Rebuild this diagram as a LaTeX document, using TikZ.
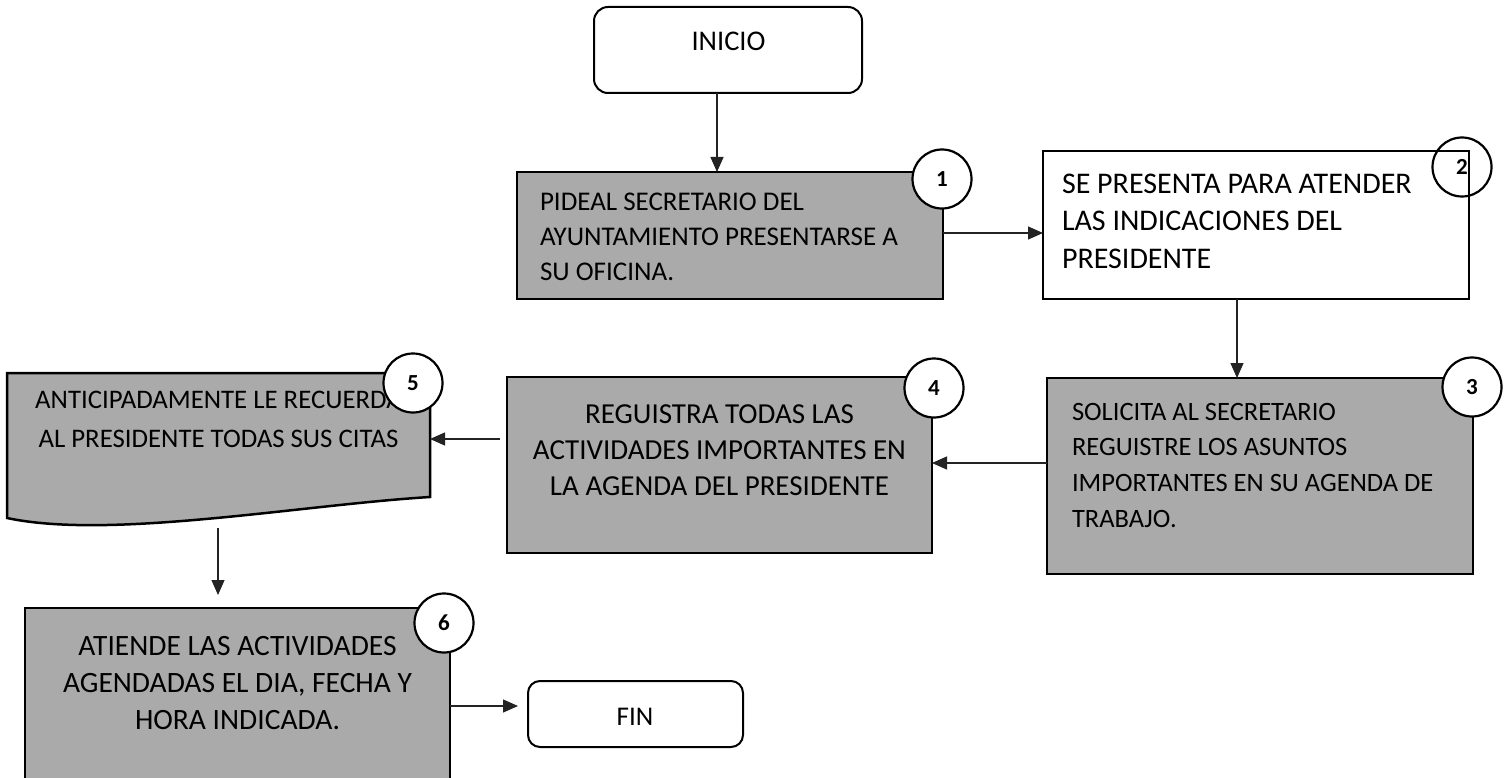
\documentclass[tikz,border=0pt]{standalone}
\usepackage{fontspec}
\setmainfont{Carlito}
\usetikzlibrary{arrows.meta,calc}
\definecolor{boxgray}{RGB}{170,170,170}
\definecolor{linegray}{RGB}{35,35,35}
\begin{document}
\begin{tikzpicture}[x=1pt,y=-1pt,
  proc/.style={draw=black,line width=2.5pt,fill=boxgray,inner sep=0pt,outer sep=0pt},
  term/.style={draw=black,line width=2pt,rounded corners=14pt,fill=white,inner sep=0pt,outer sep=0pt},
  numc/.style={circle,draw=black,line width=2.2pt,fill=white,minimum size=59pt,inner sep=0pt,font=\fontsize{23}{23}\selectfont\bfseries},
  conn/.style={draw=linegray,line width=1.2pt,-{Triangle[length=15pt,width=13pt]}},
  txt/.style={inner sep=0pt,outer sep=0pt}
]
\useasboundingbox (0,0) rectangle (1510,778);
\fill[white] (0,0) rectangle (1510,778);

% INICIO
\node[term,minimum width=268pt,minimum height=86pt] (inicio) at (728,50) {};
\node[txt,anchor=base,font=\fontsize{28.5}{28.5}\selectfont] (inicioT) at (728.5,51) {INICIO};

% Box 1
\node[proc,minimum width=426pt,minimum height=127pt] (b1) at (730,235.5) {};
\node[txt,anchor=north west,align=left,font=\fontsize{27}{35}\selectfont] (t1) at (540,192.7)
  {PIDEAL SECRETARIO DEL\\AYUNTAMIENTO PRESENTARSE A\\SU OFICINA.};
\node[numc] (c1) at (942,179) {1};

% Box 2
\node[proc,fill=white,minimum width=426pt,minimum height=148pt] (b2) at (1256,225) {};
\node[txt,anchor=north west,align=left,font=\fontsize{30}{37.5}\selectfont] (t2) at (1062,173.8)
  {SE PRESENTA PARA ATENDER\\LAS INDICACIONES DEL\\PRESIDENTE};
\node[numc,fill=none] (c2) at (1462,167) {2};

% Box 3
\node[proc,minimum width=426pt,minimum height=196pt] (b3) at (1260,476) {};
\node[txt,anchor=north west,align=left,font=\fontsize{26.5}{35.7}\selectfont] (t3) at (1072,403)
  {SOLICITA AL SECRETARIO\\REGUISTRE LOS ASUNTOS\\IMPORTANTES EN SU AGENDA DE\\TRABAJO.};
\node[numc] (c3) at (1472,387) {3};

% Box 4
\node[proc,minimum width=425pt,minimum height=176pt] (b4) at (719.5,465) {};
\node[txt,anchor=north,align=center,font=\fontsize{29}{36}\selectfont] (t4) at (719.5,404.4)
  {REGUISTRA TODAS LAS\\ACTIVIDADES IMPORTANTES EN\\LA AGENDA DEL PRESIDENTE};
\node[numc] (c4) at (934,388) {4};

% Box 5 (document shape)
\node[inner sep=0pt,outer sep=0pt,minimum width=423pt,minimum height=145pt] (b5) at (218.5,445.5) {};
\draw[line width=2.5pt,fill=boxgray,line join=miter]
  (b5.south west) -- (b5.north west) -- (b5.north east) -- ($(b5.north east)+(0,124)$)
  .. controls (300,505) and (110,540) .. (b5.south west) -- cycle;
\node[txt,anchor=north,align=center,font=\fontsize{26.8}{39}\selectfont] (t5) at (218.5,391.1)
  {ANTICIPADAMENTE LE RECUERDA\\AL PRESIDENTE TODAS SUS CITAS};
\node[numc] (c5) at (413,383) {5};

% Box 6
\node[proc,minimum width=425pt,minimum height=174pt] (b6) at (237.5,695) {};
\node[txt,anchor=north,align=center,font=\fontsize{29.5}{37}\selectfont] (t6) at (237.5,636.1)
  {ATIENDE LAS ACTIVIDADES\\AGENDADAS EL DIA, FECHA Y\\HORA INDICADA.};
\node[numc] (c6) at (444,623) {6};

% FIN
\node[term,rounded corners=12pt,minimum width=215pt,minimum height=66pt] (fin) at (635.5,714) {};
\node[txt,anchor=base,font=\fontsize{27}{27}\selectfont] (finT) at (635,725) {FIN};

% helper coordinates
\coordinate (x01) at (717,0);
\coordinate (y12) at (0,233);
\coordinate (x23) at (1237,0);
\coordinate (y34) at (0,463);
\coordinate (s45) at (500,439);
\coordinate (s56) at (218,528);
\coordinate (e56) at (218,595);
\coordinate (e67) at (518,706);

% connectors
\draw[conn] (inicio.south -| x01) -- (b1.north -| x01);
\draw[conn] (b1.east |- y12) -- (b2.west |- y12);
\draw[conn] (b2.south -| x23) -- (b3.north -| x23);
\draw[conn] (b3.west |- y34) -- (b4.east |- y34);
\draw[conn] (s45) -- (b5.east |- s45);
\draw[conn] (s56) -- (e56);
\draw[conn] (b6.east |- e67) -- (e67);
\end{tikzpicture}
\end{document}
